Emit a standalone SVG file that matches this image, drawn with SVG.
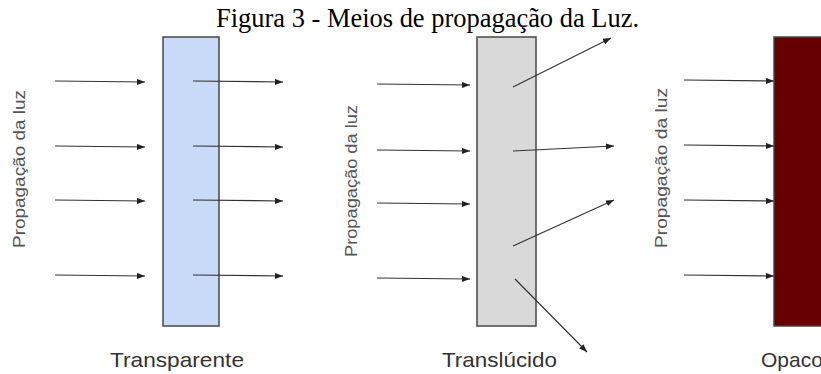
<svg xmlns="http://www.w3.org/2000/svg" width="821" height="374" viewBox="0 0 821 374">
<style>
.title{font-family:"Liberation Serif","Times New Roman",serif;font-size:26.5px;fill:#000}
.lbl{font-family:"Liberation Sans",Arial,sans-serif;font-size:21px;fill:#333}
.vert{font-family:"Liberation Sans",Arial,sans-serif;font-size:17px;fill:#555}
.box{stroke:#474747;stroke-width:1.5}
.arr{stroke:#333;stroke-width:1.2;fill:none;marker-end:url(#ah)}
</style>
<defs>
<marker id="ah" markerUnits="userSpaceOnUse" markerWidth="9" markerHeight="7" refX="8" refY="3" orient="auto">
<path d="M0,0 L8,3 L0,6 z" fill="#222"/>
</marker>
</defs>
<rect width="821" height="374" fill="#fff"/>
<text class="title" x="216" y="27" textLength="423" lengthAdjust="spacingAndGlyphs">Figura 3 - Meios de propagação da Luz.</text>

<g id="transparente">
<rect class="box" x="163" y="37" width="56" height="289" fill="#c9daf8"/>
<text class="vert" transform="translate(25,169) rotate(-90)" text-anchor="middle" textLength="158" lengthAdjust="spacingAndGlyphs">Propagação da luz</text>
<text class="lbl" x="110" y="367" textLength="134" lengthAdjust="spacingAndGlyphs">Transparente</text>
</g>

<g id="translucido">
<rect class="box" x="477" y="37" width="59" height="289" fill="#d9d9d9"/>
<text class="vert" transform="translate(357,181) rotate(-90)" text-anchor="middle" textLength="152" lengthAdjust="spacingAndGlyphs">Propagação da luz</text>
<text class="lbl" x="442" y="367" textLength="115" lengthAdjust="spacingAndGlyphs">Translúcido</text>
</g>

<g id="opaco">
<rect class="box" x="774" y="37" width="60" height="289" fill="#660000"/>
<text class="vert" transform="translate(667,168) rotate(-90)" text-anchor="middle" textLength="160" lengthAdjust="spacingAndGlyphs">Propagação da luz</text>
<text class="lbl" x="761" y="367">Opaco</text>
</g>

<g id="connectors">
<line class="arr" x1="55" y1="81" x2="145" y2="82"/>
<line class="arr" x1="55" y1="146" x2="145" y2="147"/>
<line class="arr" x1="55" y1="200" x2="145" y2="201"/>
<line class="arr" x1="55" y1="275" x2="145" y2="276"/>
<line class="arr" x1="193" y1="81" x2="283" y2="82"/>
<line class="arr" x1="193" y1="146" x2="283" y2="147"/>
<line class="arr" x1="193" y1="200" x2="283" y2="201"/>
<line class="arr" x1="193" y1="275" x2="283" y2="276"/>

<line class="arr" x1="377" y1="84" x2="470" y2="85"/>
<line class="arr" x1="377" y1="150" x2="470" y2="151"/>
<line class="arr" x1="377" y1="203" x2="470" y2="204"/>
<line class="arr" x1="377" y1="278" x2="470" y2="279"/>
<line class="arr" x1="513" y1="87" x2="611" y2="38"/>
<line class="arr" x1="513" y1="151" x2="614" y2="146"/>
<line class="arr" x1="513" y1="246" x2="614" y2="200"/>
<line class="arr" x1="515" y1="279" x2="587" y2="352"/>

<line class="arr" x1="684" y1="80" x2="774" y2="81"/>
<line class="arr" x1="684" y1="145" x2="774" y2="146"/>
<line class="arr" x1="684" y1="200" x2="774" y2="201"/>
<line class="arr" x1="684" y1="275" x2="774" y2="276"/>
</g>
</svg>
